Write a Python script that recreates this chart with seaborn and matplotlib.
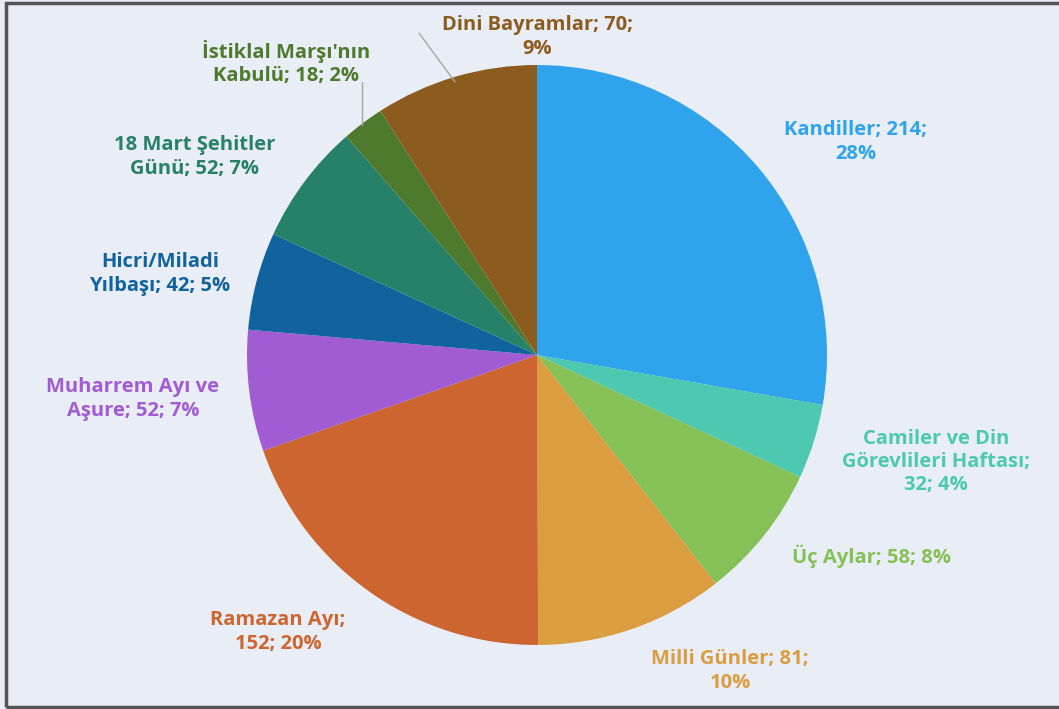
import matplotlib
matplotlib.use('Agg')
import matplotlib.pyplot as plt
import seaborn as sns
from matplotlib.patches import Rectangle

# data
categories = ['Kandiller', 'Camiler ve Din Görevlileri Haftası', 'Üç Aylar', 'Milli Günler',
              'Ramazan Ayı', 'Muharrem Ayı ve Aşure', 'Hicri/Miladi Yılbaşı',
              '18 Mart Şehitler Günü', "İstiklal Marşı'nın Kabulü", 'Dini Bayramlar']
values = [214, 32, 58, 81, 152, 52, 42, 52, 18, 70]
pcts = [28, 4, 8, 10, 20, 7, 5, 7, 2, 9]
label_texts = ['Kandiller; 214;\n28%',
               'Camiler ve Din\nGörevlileri Haftası;\n32; 4%',
               'Üç Aylar; 58; 8%',
               'Milli Günler; 81;\n10%',
               'Ramazan Ayı;\n152; 20%',
               'Muharrem Ayı ve\nAşure; 52; 7%',
               'Hicri/Miladi\nYılbaşı; 42; 5%',
               '18 Mart Şehitler\nGünü; 52; 7%',
               "İstiklal Marşı'nın\nKabulü; 18; 2%",
               'Dini Bayramlar; 70;\n9%']
colors = sns.color_palette(['#2FA3EC', '#4CC9B0', '#86C158', '#DA9D40', '#CD6530',
                            '#A25CD3', '#11639E', '#278068', '#4E7A2E', '#8B5C1E'])

# layout (pixel coords, y from top)
W, H = 1059, 709
cx, cy, r = 537, 355, 290
label_pos = [(856, 142), (936, 462), (872, 556), (730, 671), (278, 632),
             (133, 399), (160, 274), (195, 157), (286, 63), (537, 37)]

sns.set_style('white')
plt.rcParams['font.family'] = ['Open Sans', 'DejaVu Sans']

fig = plt.figure(figsize=(W / 100, H / 100), dpi=100)
fig.patch.set_facecolor('#E9EDF5')
ax = fig.add_axes([0, 0, 1, 1])
ax.set_facecolor('#E9EDF5')

ax.pie(values, colors=colors, startangle=90, counterclock=False,
       center=(cx, H - cy), radius=r, frame=True,
       wedgeprops=dict(linewidth=0))
ax.set_xlim(0, W)
ax.set_ylim(0, H)
ax.set_aspect('equal')
ax.axis('off')

for txt, (x, y), c in zip(label_texts, label_pos, colors):
    ax.text(x, H - y, txt, color=c, fontsize=14.5, fontweight='bold',
            ha='center', va='center', linespacing=1.22)

# leader lines
ax.plot([362, 362], [H - 82, H - 125], color='#A6A6A6', lw=1)
ax.plot([419, 455], [H - 33, H - 82], color='#A6A6A6', lw=1)

# outer border
fig.patches.append(Rectangle((6 / W, 2 / H), 1.2, (H - 5) / H, transform=fig.transFigure,
                             fill=False, edgecolor='#555555', linewidth=2.5))

fig.savefig('out.png', dpi=100, facecolor=fig.get_facecolor())
